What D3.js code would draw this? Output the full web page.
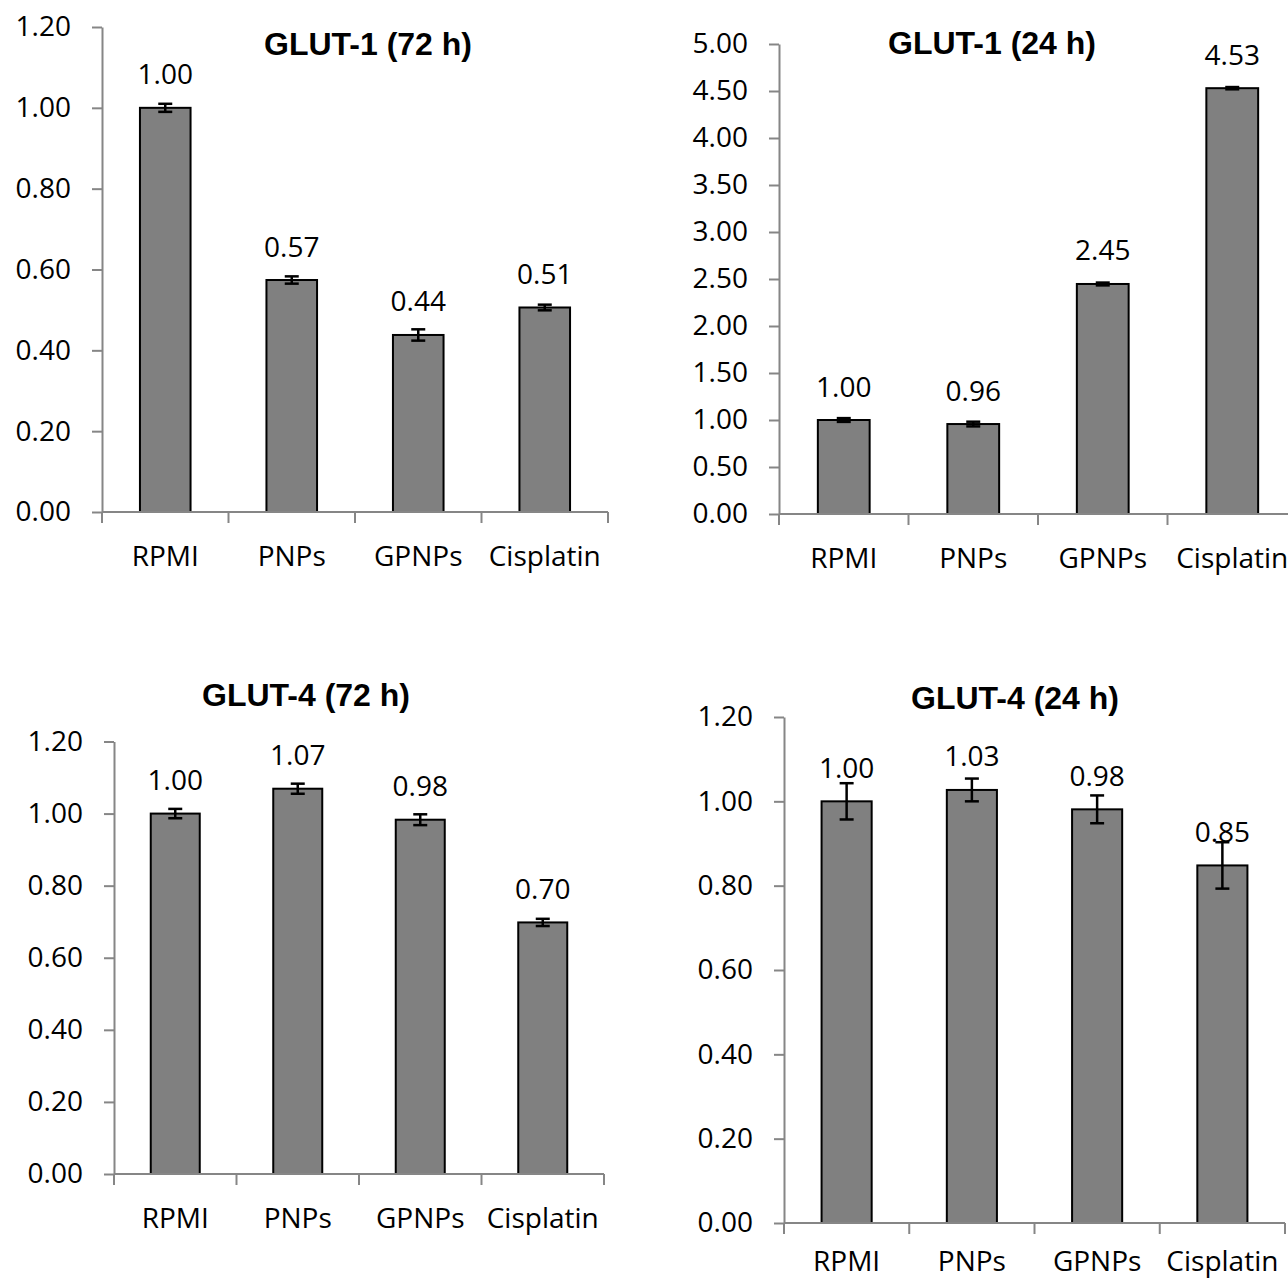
<!DOCTYPE html>
<style>
body { margin: 0; overflow: hidden; background: #fff; }
.axis line, .axis path { stroke: #868686; stroke-width: 2; }
.axis text { font-family: "Open Sans", sans-serif; font-size: 28px; fill: #000; }
</style>
<svg width="1288" height="1280"></svg>
<script src="https://d3js.org/d3.v7.min.js"></script>
<script>

var categories = ["RPMI", "PNPs", "GPNPs", "Cisplatin"];

var glut1_72 = [1.00, 0.574, 0.438, 0.506],
    glut1_72Err = [0.010, 0.009, 0.014, 0.007];
var glut1_24 = [1.00, 0.957, 2.447, 4.53],
    glut1_24Err = [0.02, 0.025, 0.015, 0.012];
var glut4_72 = [1.00, 1.069, 0.983, 0.698],
    glut4_72Err = [0.013, 0.014, 0.015, 0.010];
var glut4_24 = [1.00, 1.027, 0.981, 0.848],
    glut4_24Err = [0.043, 0.027, 0.033, 0.055];

var ticks12 = [0, 0.2, 0.4, 0.6, 0.8, 1.0, 1.2],
    ticks5 = [0, 0.5, 1.0, 1.5, 2.0, 2.5, 3.0, 3.5, 4.0, 4.5, 5.0];

var svg = d3.select("svg");

// lab = distance from the x axis to the category label baseline
var panels = [
  {title: "GLUT-1 (72 h)", values: glut1_72, errors: glut1_72Err, ticks: ticks12,
   left: 102, right: 608, bottom: 512, top: 27, tx: 368, ty: 55, lab: 53.5},
  {title: "GLUT-1 (24 h)", values: glut1_24, errors: glut1_24Err, ticks: ticks5,
   left: 779, right: 1297, bottom: 514, top: 44, tx: 992, ty: 54, lab: 53.5},
  {title: "GLUT-4 (72 h)", values: glut4_72, errors: glut4_72Err, ticks: ticks12,
   left: 114, right: 604, bottom: 1174, top: 741.5, tx: 306, ty: 706, lab: 53.5},
  {title: "GLUT-4 (24 h)", values: glut4_24, errors: glut4_24Err, ticks: ticks12,
   left: 784, right: 1285, bottom: 1223, top: 717, tx: 1015, ty: 709, lab: 48}
];

panels.forEach(function(p) {
  var g = svg.append("g");

  var x = d3.scaleBand()
      .domain(categories)
      .range([p.left, p.right])
      .paddingInner(0.6)
      .paddingOuter(0.3);

  var y = d3.scaleLinear()
      .domain([0, d3.max(p.ticks)])
      .range([p.bottom, p.top]);

  var data = categories.map(function(c, i) {
    return {cat: c, value: p.values[i], err: p.errors[i]};
  });

  // bars
  g.selectAll("rect")
    .data(data)
    .enter().append("rect")
      .attr("x", function(d) { return x(d.cat); })
      .attr("y", function(d) { return y(d.value); })
      .attr("width", x.bandwidth())
      .attr("height", function(d) { return y(0) - y(d.value); })
      .attr("fill", "#808080")
      .attr("stroke", "#000")
      .attr("stroke-width", 2);

  // y axis
  g.append("g")
      .attr("class", "axis")
      .attr("transform", "translate(" + p.left + ",0)")
      .call(d3.axisLeft(y).tickValues(p.ticks).tickSizeInner(10).tickSizeOuter(0)
        .tickPadding(21).tickFormat(d3.format(".2f")));

  // x axis with ticks between categories
  var xa = g.append("g").attr("class", "axis");
  xa.append("line")
      .attr("x1", p.left).attr("x2", p.right)
      .attr("y1", p.bottom).attr("y2", p.bottom);
  xa.selectAll(".sep")
    .data(d3.range(categories.length + 1))
    .enter().append("line")
      .attr("x1", function(i) { return p.left + i * x.step(); })
      .attr("x2", function(i) { return p.left + i * x.step(); })
      .attr("y1", p.bottom)
      .attr("y2", p.bottom + 11);
  xa.selectAll("text")
    .data(categories)
    .enter().append("text")
      .attr("x", function(c) { return x(c) + x.bandwidth() / 2; })
      .attr("y", p.bottom + p.lab)
      .attr("text-anchor", "middle")
      .text(function(c) { return c; });

  // error bars
  var eb = g.selectAll(".err")
    .data(data)
    .enter().append("g")
      .attr("stroke", "#000")
      .attr("stroke-width", 2.5);
  var cx = function(d) { return x(d.cat) + x.bandwidth() / 2; };
  eb.append("line")
      .attr("x1", cx).attr("x2", cx)
      .attr("y1", function(d) { return y(d.value + d.err); })
      .attr("y2", function(d) { return y(d.value - d.err); });
  [1, -1].forEach(function(s) {
    eb.append("line")
        .attr("x1", function(d) { return cx(d) - 7; })
        .attr("x2", function(d) { return cx(d) + 7; })
        .attr("y1", function(d) { return y(d.value + s * d.err); })
        .attr("y2", function(d) { return y(d.value + s * d.err); });
  });

  // value labels
  g.selectAll(".lbl")
    .data(data)
    .enter().append("text")
      .attr("x", cx)
      .attr("y", function(d) { return y(d.value) - 23.5; })
      .attr("text-anchor", "middle")
      .attr("font-family", "Open Sans, sans-serif")
      .attr("font-size", 28)
      .text(function(d) { return d3.format(".2f")(d.value); });

  // title
  g.append("text")
      .attr("x", p.tx)
      .attr("y", p.ty)
      .attr("text-anchor", "middle")
      .attr("font-family", "Liberation Sans, Arial, sans-serif")
      .attr("font-weight", "bold")
      .attr("font-size", 32)
      .text(p.title);
});

</script>
